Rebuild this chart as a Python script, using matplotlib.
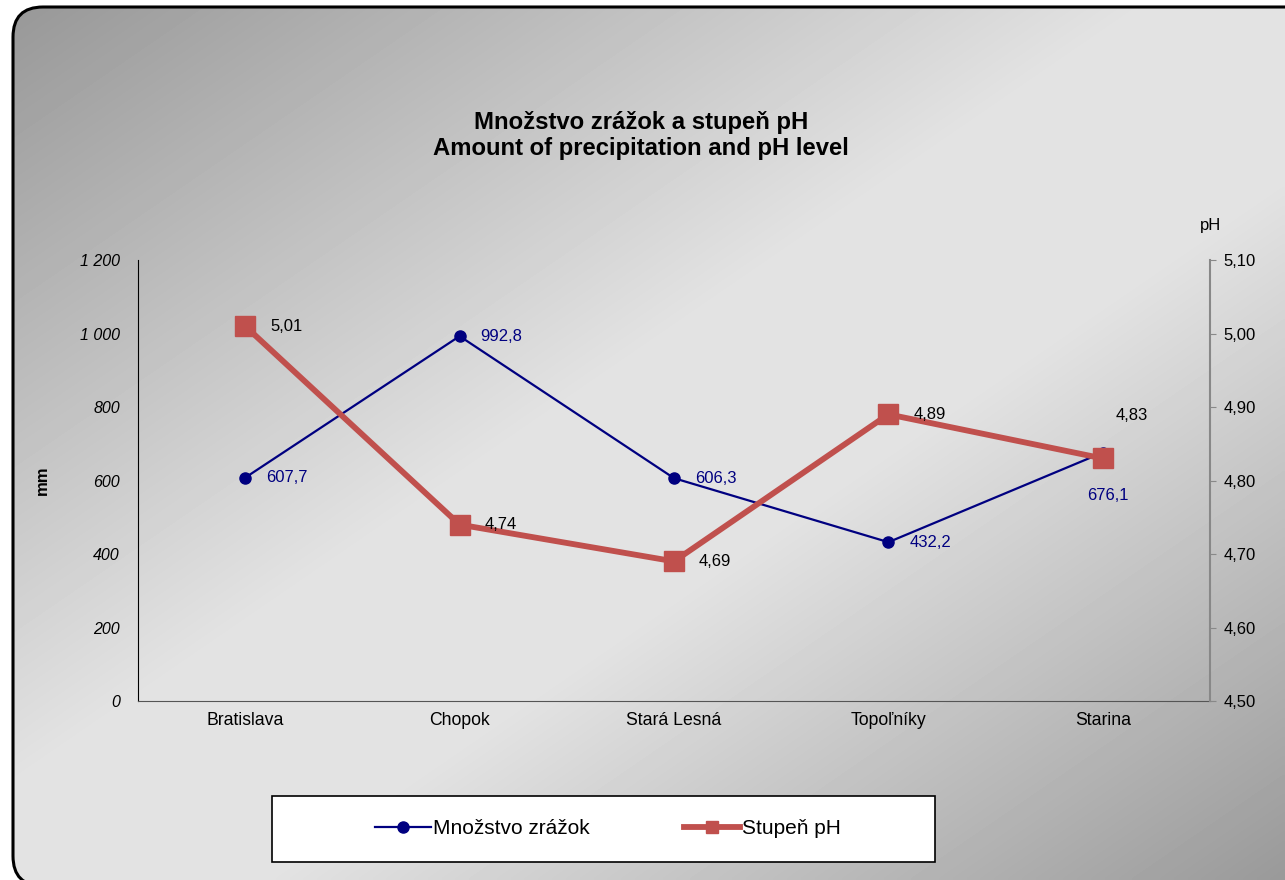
import numpy as np
import matplotlib
matplotlib.use("Agg")
import matplotlib.pyplot as plt
from matplotlib.patches import FancyBboxPatch, Rectangle
from matplotlib.colors import LinearSegmentedColormap

plt.rcParams['font.family'] = ['Liberation Sans', 'DejaVu Sans']

stations = ['Bratislava', 'Chopok', 'Stará Lesná', 'Topoľníky', 'Starina']
zrazky = [607.7, 992.8, 606.3, 432.2, 676.1]
ph = [5.01, 4.74, 4.69, 4.89, 4.83]

mm_ticks = [0, 200, 400, 600, 800, 1000, 1200]
mm_labels = ['0', '200', '400', '600', '800', '1 000', '1 200']
ph_ticks = [4.5, 4.6, 4.7, 4.8, 4.9, 5.0, 5.1]

W, H = 1285, 880
fig = plt.figure(figsize=(W / 100, H / 100), dpi=100)
fig.patch.set_facecolor('white')

# background layer in pixel units (origin bottom-left)
bg = fig.add_axes([0, 0, 1, 1])
bg.set_xlim(0, W)
bg.set_ylim(0, H)
bg.axis('off')

def top(y):
    # pixel row counted from the top edge
    return H - y

# diagonal gray gradient: dark corners top-left / bottom-right, light middle band
yy, xx = np.mgrid[0:H:4, 0:W:4]
t = (xx / W + yy / H) / 2
shade = np.interp(t, [0.0, 0.45, 0.6, 1.0], [0.59, 0.89, 0.89, 0.60])
cmap = LinearSegmentedColormap.from_list('g', ['black', 'white'])
img = bg.imshow(shade, cmap=cmap, vmin=0, vmax=1, extent=[0, W, 0, H],
                origin='upper', interpolation='bilinear', zorder=0)
frame = FancyBboxPatch((13, -6), 1318, 879,
                       boxstyle='round,pad=0,rounding_size=30',
                       facecolor='none', edgecolor='black', linewidth=2.2, zorder=2)
bg.add_patch(frame)
img.set_clip_path(frame)

bg.text(641, top(122), 'Množstvo zrážok a stupeň pH', ha='center', va='center',
        fontsize=17.2, fontweight='bold')
bg.text(641, top(148), 'Amount of precipitation and pH level', ha='center', va='center',
        fontsize=17.2, fontweight='bold')
bg.text(42, top(480), 'mm', ha='center', va='center', rotation=90,
        fontsize=12, fontweight='bold')
bg.text(1211, top(225), 'pH', ha='center', va='center', fontsize=12)

# plot area
x0, x1, ytop, ybot = 138, 1210, 260, 701
ax = fig.add_axes([x0 / W, 1 - ybot / H, (x1 - x0) / W, (ybot - ytop) / H])
ax.patch.set_alpha(0)
pos = np.arange(len(stations))
ax.set_xlim(-0.5, len(stations) - 0.5)
ax.set_ylim(0, 1200)
ax.set_yticks(mm_ticks)
ax.set_yticklabels(mm_labels, fontstyle='italic', fontsize=11.5)
ax.tick_params(axis='y', length=0, pad=13)
ax.set_xticks(pos)
ax.set_xticklabels(stations, fontsize=12.7)
ax.tick_params(axis='x', length=0, pad=8)
for s in ['top', 'right']:
    ax.spines[s].set_visible(False)
ax.spines['left'].set_color('black')
ax.spines['bottom'].set_color('#555555')

blue = '#000080'
red = '#c0504d'
ax.plot(pos, zrazky, color=blue, linewidth=1.6, marker='o', markersize=8, zorder=3)

ax2 = ax.twinx()
ax2.set_ylim(4.5, 5.1)
ax2.set_yticks(ph_ticks)
ax2.set_yticklabels([f'{v:.2f}'.replace('.', ',') for v in ph_ticks], fontsize=12)
ax2.tick_params(axis='y', length=4, color='#888888', pad=6)
for s in ['top', 'left', 'bottom']:
    ax2.spines[s].set_visible(False)
ax2.spines['right'].set_color('#888888')
ax2.spines['right'].set_linewidth(1.5)
ax2.plot(pos, ph, color=red, linewidth=4.2, marker='s', markersize=14, zorder=4)

# data labels
mm_off = [(15, 0), (15, 0), (15, 0), (15, 0), (4, -31)]
for i, (v, off) in enumerate(zip(zrazky, mm_off)):
    ha = 'left' if i < 4 else 'center'
    ax.annotate(f'{v:.1f}'.replace('.', ','), (pos[i], v), xytext=off,
                textcoords='offset points', ha=ha, va='center', fontsize=12, color=blue)
ph_off = [(18, 0), (18, 0), (18, 0), (18, 0), (21, 31)]
for i, (v, off) in enumerate(zip(ph, ph_off)):
    ha = 'left' if i < 4 else 'center'
    ax2.annotate(f'{v:.2f}'.replace('.', ','), (pos[i], v), xytext=off,
                 textcoords='offset points', ha=ha, va='center', fontsize=12, color='black',
                 zorder=6)

# legend box and entries
bg.add_patch(Rectangle((272, top(862)), 663, 66, facecolor='white', edgecolor='black',
                       linewidth=1.2, zorder=3))
h1, = ax.plot([], [], color=blue, linewidth=1.6, marker='o', markersize=8)
h2, = ax.plot([], [], color=red, linewidth=4.2, marker='s', markersize=8)
leg = bg.legend([h1, h2], ['Množstvo zrážok', 'Stupeň pH'], ncol=2,
                loc='center', bbox_to_anchor=(608 / W, 1 - 829 / H),
                fontsize=15, frameon=False,
                handlelength=2.7, handletextpad=0.1, columnspacing=4.5)
leg.set_zorder(4)

fig.savefig('out.png', dpi=100)
